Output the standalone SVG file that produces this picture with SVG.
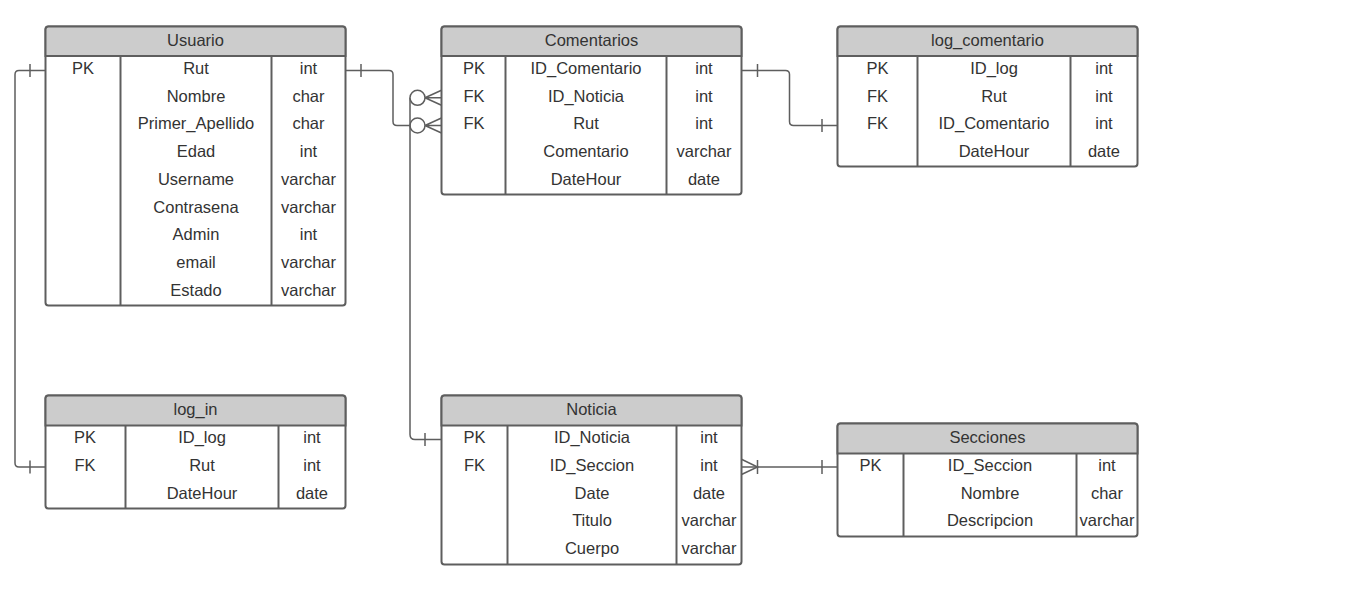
<svg xmlns="http://www.w3.org/2000/svg" width="1368" height="594" viewBox="0 0 1368 594">
  <style>
    .box { fill: #ffffff; stroke: #5e5e5e; stroke-width: 2; }
    .head { fill: #cccccc; stroke: #5e5e5e; stroke-width: 2; }
    .div { stroke: #5e5e5e; stroke-width: 2; fill: none; }
    .t { font-family: "Liberation Sans", Arial, sans-serif; font-size: 16.5px; fill: #333333; text-anchor: middle; }
    .conn path, .conn line, .conn circle { fill: none; stroke: #5e5e5e; stroke-width: 1.5; }
    .conn circle { fill: #ffffff; }
  </style>

  <rect width="1368" height="594" fill="#ffffff"/>

  <!-- connectors -->
  <g id="connectors" class="conn">
    <!-- Usuario.Rut -> Comentarios.Rut (one to zero-or-many) -->
    <path d="M345.5,70.5 H389 Q393,70.5 393,74.5 V121.5 Q393,125.5 397,125.5 H410"/>
    <line x1="361" y1="64" x2="361" y2="77"/>
    <circle cx="417.5" cy="125.5" r="7.5"/>
    <path d="M425,125.5 L441.5,118 M425,125.5 L441.5,125.5 M425,125.5 L441.5,133"/>

    <!-- Noticia.ID_Noticia -> Comentarios.ID_Noticia (one to zero-or-many) -->
    <path d="M410,97.8 V434.5 Q410,439.5 415,439.5 H441.5"/>
    <line x1="425" y1="433" x2="425" y2="446"/>
    <circle cx="417.5" cy="97.8" r="7.5"/>
    <path d="M425,97.8 L441.5,90.3 M425,97.8 L441.5,97.8 M425,97.8 L441.5,105.3"/>

    <!-- Comentarios.ID_Comentario -> log_comentario.ID_Comentario (one to one) -->
    <path d="M741.5,70.5 H785.5 Q789.5,70.5 789.5,74.5 V121.5 Q789.5,125.5 793.5,125.5 H837.5"/>
    <line x1="757.5" y1="64" x2="757.5" y2="77"/>
    <line x1="822" y1="119" x2="822" y2="132"/>

    <!-- Usuario.Rut -> log_in.Rut (one to one) -->
    <path d="M45.5,70.5 H19 Q15,70.5 15,74.5 V463 Q15,467 19,467 H45.5"/>
    <line x1="30" y1="64" x2="30" y2="77"/>
    <line x1="30" y1="460.5" x2="30" y2="473.5"/>

    <!-- Secciones.ID_Seccion -> Noticia.ID_Seccion (one to one-or-many) -->
    <path d="M741.5,467 H837.5"/>
    <path d="M741.5,459.3 L757.5,467 L741.5,474.5"/>
    <line x1="757.5" y1="460" x2="757.5" y2="474"/>
    <line x1="822" y1="460" x2="822" y2="474"/>
  </g>

  <!-- Usuario -->
  <g id="usuario">
    <rect class="box" x="45.5" y="26.5" width="300" height="279" rx="3"/>
    <path class="head" d="M45.5,56 V29.5 Q45.5,26.5 48.5,26.5 H342.5 Q345.5,26.5 345.5,29.5 V56 Z"/>
    <line class="div" x1="120.5" y1="56" x2="120.5" y2="305.5"/>
    <line class="div" x1="271.5" y1="56" x2="271.5" y2="305.5"/>
    <text class="t" x="195.5" y="46">Usuario</text>
    <text class="t" x="83" y="74">PK</text>
    <text class="t" x="196" y="74">Rut</text>
    <text class="t" x="308.5" y="74">int</text>
    <text class="t" x="196" y="101.7">Nombre</text>
    <text class="t" x="308.5" y="101.7">char</text>
    <text class="t" x="196" y="129.4">Primer_Apellido</text>
    <text class="t" x="308.5" y="129.4">char</text>
    <text class="t" x="196" y="157.1">Edad</text>
    <text class="t" x="308.5" y="157.1">int</text>
    <text class="t" x="196" y="184.8">Username</text>
    <text class="t" x="308.5" y="184.8">varchar</text>
    <text class="t" x="196" y="212.5">Contrasena</text>
    <text class="t" x="308.5" y="212.5">varchar</text>
    <text class="t" x="196" y="240.2">Admin</text>
    <text class="t" x="308.5" y="240.2">int</text>
    <text class="t" x="196" y="267.9">email</text>
    <text class="t" x="308.5" y="267.9">varchar</text>
    <text class="t" x="196" y="295.6">Estado</text>
    <text class="t" x="308.5" y="295.6">varchar</text>
  </g>

  <!-- Comentarios -->
  <g id="comentarios">
    <rect class="box" x="441.5" y="26.5" width="300" height="168" rx="3"/>
    <path class="head" d="M441.5,56 V29.5 Q441.5,26.5 444.5,26.5 H738.5 Q741.5,26.5 741.5,29.5 V56 Z"/>
    <line class="div" x1="505.5" y1="56" x2="505.5" y2="194.5"/>
    <line class="div" x1="666.5" y1="56" x2="666.5" y2="194.5"/>
    <text class="t" x="591.5" y="46">Comentarios</text>
    <text class="t" x="474" y="74">PK</text>
    <text class="t" x="586" y="74">ID_Comentario</text>
    <text class="t" x="704" y="74">int</text>
    <text class="t" x="474" y="101.7">FK</text>
    <text class="t" x="586" y="101.7">ID_Noticia</text>
    <text class="t" x="704" y="101.7">int</text>
    <text class="t" x="474" y="129.4">FK</text>
    <text class="t" x="586" y="129.4">Rut</text>
    <text class="t" x="704" y="129.4">int</text>
    <text class="t" x="586" y="157.1">Comentario</text>
    <text class="t" x="704" y="157.1">varchar</text>
    <text class="t" x="586" y="184.8">DateHour</text>
    <text class="t" x="704" y="184.8">date</text>
  </g>

  <!-- log_comentario -->
  <g id="log_comentario">
    <rect class="box" x="837.5" y="26.5" width="300" height="140" rx="3"/>
    <path class="head" d="M837.5,56 V29.5 Q837.5,26.5 840.5,26.5 H1134.5 Q1137.5,26.5 1137.5,29.5 V56 Z"/>
    <line class="div" x1="917.5" y1="56" x2="917.5" y2="166.5"/>
    <line class="div" x1="1070.5" y1="56" x2="1070.5" y2="166.5"/>
    <text class="t" x="987.5" y="46">log_comentario</text>
    <text class="t" x="877.5" y="74">PK</text>
    <text class="t" x="994" y="74">ID_log</text>
    <text class="t" x="1104" y="74">int</text>
    <text class="t" x="877.5" y="101.7">FK</text>
    <text class="t" x="994" y="101.7">Rut</text>
    <text class="t" x="1104" y="101.7">int</text>
    <text class="t" x="877.5" y="129.4">FK</text>
    <text class="t" x="994" y="129.4">ID_Comentario</text>
    <text class="t" x="1104" y="129.4">int</text>
    <text class="t" x="994" y="157.1">DateHour</text>
    <text class="t" x="1104" y="157.1">date</text>
  </g>

  <!-- log_in -->
  <g id="log_in">
    <rect class="box" x="45.5" y="395.5" width="300" height="113" rx="3"/>
    <path class="head" d="M45.5,425.5 V398.5 Q45.5,395.5 48.5,395.5 H342.5 Q345.5,395.5 345.5,398.5 V425.5 Z"/>
    <line class="div" x1="125.5" y1="425.5" x2="125.5" y2="508.5"/>
    <line class="div" x1="278.5" y1="425.5" x2="278.5" y2="508.5"/>
    <text class="t" x="195.5" y="415">log_in</text>
    <text class="t" x="85" y="443.3">PK</text>
    <text class="t" x="202" y="443.3">ID_log</text>
    <text class="t" x="312" y="443.3">int</text>
    <text class="t" x="85" y="471">FK</text>
    <text class="t" x="202" y="471">Rut</text>
    <text class="t" x="312" y="471">int</text>
    <text class="t" x="202" y="498.5">DateHour</text>
    <text class="t" x="312" y="498.5">date</text>
  </g>

  <!-- Noticia -->
  <g id="noticia">
    <rect class="box" x="441.5" y="395.5" width="300" height="169" rx="3"/>
    <path class="head" d="M441.5,425.5 V398.5 Q441.5,395.5 444.5,395.5 H738.5 Q741.5,395.5 741.5,398.5 V425.5 Z"/>
    <line class="div" x1="507.5" y1="425.5" x2="507.5" y2="564.5"/>
    <line class="div" x1="676.5" y1="425.5" x2="676.5" y2="564.5"/>
    <text class="t" x="591.5" y="415">Noticia</text>
    <text class="t" x="474.5" y="443.3">PK</text>
    <text class="t" x="592" y="443.3">ID_Noticia</text>
    <text class="t" x="709" y="443.3">int</text>
    <text class="t" x="474.5" y="471">FK</text>
    <text class="t" x="592" y="471">ID_Seccion</text>
    <text class="t" x="709" y="471">int</text>
    <text class="t" x="592" y="498.7">Date</text>
    <text class="t" x="709" y="498.7">date</text>
    <text class="t" x="592" y="526.4">Titulo</text>
    <text class="t" x="709" y="526.4">varchar</text>
    <text class="t" x="592" y="554.1">Cuerpo</text>
    <text class="t" x="709" y="554.1">varchar</text>
  </g>

  <!-- Secciones -->
  <g id="secciones">
    <rect class="box" x="837.5" y="423.5" width="300" height="113" rx="3"/>
    <path class="head" d="M837.5,453.5 V426.5 Q837.5,423.5 840.5,423.5 H1134.5 Q1137.5,423.5 1137.5,426.5 V453.5 Z"/>
    <line class="div" x1="903.5" y1="453.5" x2="903.5" y2="536.5"/>
    <line class="div" x1="1076.5" y1="453.5" x2="1076.5" y2="536.5"/>
    <text class="t" x="987.5" y="443">Secciones</text>
    <text class="t" x="870.5" y="471">PK</text>
    <text class="t" x="990" y="471">ID_Seccion</text>
    <text class="t" x="1107" y="471">int</text>
    <text class="t" x="990" y="498.7">Nombre</text>
    <text class="t" x="1107" y="498.7">char</text>
    <text class="t" x="990" y="526.4">Descripcion</text>
    <text class="t" x="1107" y="526.4">varchar</text>
  </g>
</svg>
